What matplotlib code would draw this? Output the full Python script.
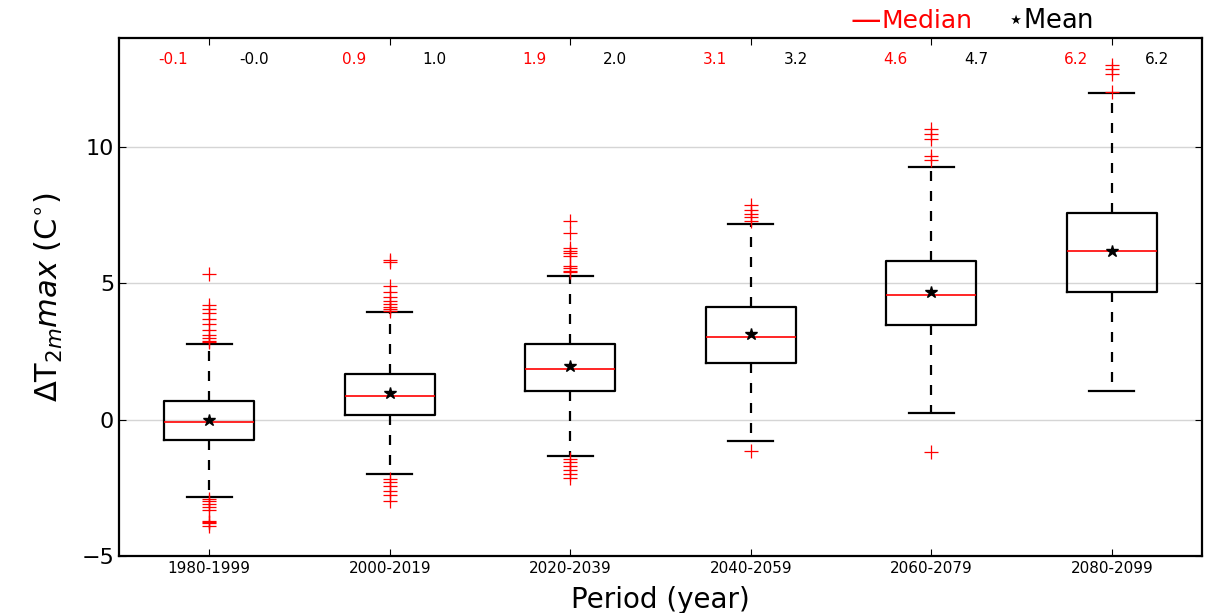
import matplotlib
matplotlib.use("Agg")
import matplotlib.pyplot as plt

periods = ["1980-1999", "2000-2019", "2020-2039", "2040-2059", "2060-2079", "2080-2099"]
q1 = [-0.74, 0.17, 1.07, 2.08, 3.49, 4.67]
q3 = [0.67, 1.69, 2.76, 4.13, 5.81, 7.58]
medians = [-0.07, 0.86, 1.86, 3.03, 4.57, 6.18]
means = [0.0, 0.98, 1.96, 3.15, 4.69, 6.20]
whislo = [-2.84, -2.01, -1.34, -0.80, 0.23, 1.07]
whishi = [2.76, 3.95, 5.26, 7.17, 9.28, 11.97]
fliers = [
    [5.33, 4.2, 4.05, 3.9, 3.7, 3.5, 3.3, 3.1, 3.0, 2.9, 2.85,
     -2.9, -3.0, -3.1, -3.2, -3.3, -3.7, -3.75, -3.8, -3.9],
    [5.85, 5.8, 4.9, 4.7, 4.5, 4.35, 4.25, 4.15, 4.05, 4.0,
     -2.17, -2.3, -2.45, -2.6, -2.75, -2.98],
    [7.29, 6.83, 6.3, 6.2, 6.1, 6.0, 5.65, 5.55, 5.45, 5.4,
     -1.43, -1.55, -1.7, -1.85, -2.0, -2.13],
    [7.87, 7.7, 7.55, 7.45, 7.3, -1.16],
    [10.65, 10.48, 10.28, 9.67, 9.52, -1.18],
    [13.01, 12.86, 12.68, 12.03],
]
median_labels = ["-0.1", "0.9", "1.9", "3.1", "4.6", "6.2"]
mean_labels = ["-0.0", "1.0", "2.0", "3.2", "4.7", "6.2"]

fig = plt.figure(figsize=(12.19, 6.13), dpi=100)
ax = fig.add_axes([119 / 1219, 1 - 556 / 613, (1202 - 119) / 1219, (556 - 38) / 613])

stats = []
for i in range(len(periods)):
    stats.append(dict(med=medians[i], q1=q1[i], q3=q3[i], whislo=whislo[i],
                      whishi=whishi[i], fliers=fliers[i], mean=means[i], label=periods[i]))

positions = list(range(1, len(periods) + 1))
ax.bxp(stats, positions=positions, widths=0.5, showmeans=True, showfliers=True,
       boxprops=dict(color="black", linewidth=1.6),
       whiskerprops=dict(color="black", linewidth=1.6, linestyle=(0, (4.5, 4.5))),
       capprops=dict(color="black", linewidth=1.6),
       medianprops=dict(color="red", linewidth=1.2),
       meanprops=dict(marker="*", markerfacecolor="black", markeredgecolor="black", markersize=9),
       flierprops=dict(marker="+", markeredgecolor="red", markersize=10, markeredgewidth=0.9,
                       linestyle="none"))

ax.set_xlim(0.5, 6.5)
ax.set_ylim(-5, 14)
ax.set_yticks([-5, 0, 5, 10])
ax.set_xticks(positions)
ax.set_xticklabels(periods, fontsize=11)
ax.tick_params(axis="y", labelsize=16, direction="in", right=True, length=5)
ax.tick_params(axis="x", direction="in", top=True, length=5)
ax.yaxis.grid(True, color="#d5d5d5", linewidth=1.0)
ax.set_axisbelow(True)
for s in ax.spines.values():
    s.set_linewidth(1.6)

for i, p in enumerate(positions):
    ax.text(p - 0.2, 13.2, median_labels[i], color="red", fontsize=11, ha="center", va="center")
    ax.text(p + 0.25, 13.2, mean_labels[i], color="black", fontsize=11, ha="center", va="center")

ax.set_ylabel(r"$\Delta$T$_{2m}max$ (C$^{\circ}$)", fontsize=22, labelpad=12)
ax.set_xlabel("Period (year)", fontsize=20, labelpad=7)

fig.text(850 / 1219, 1 - 21 / 613, "\u2014", color="red", fontsize=22, ha="left", va="center")
fig.text(882 / 1219, 1 - 21 / 613, "Median", color="red", fontsize=18, ha="left", va="center")
fig.text(1007 / 1219, 1 - 21 / 613, r"$\star$Mean", color="black", fontsize=18.5, ha="left", va="center")

fig.savefig("out.png", dpi=100)
